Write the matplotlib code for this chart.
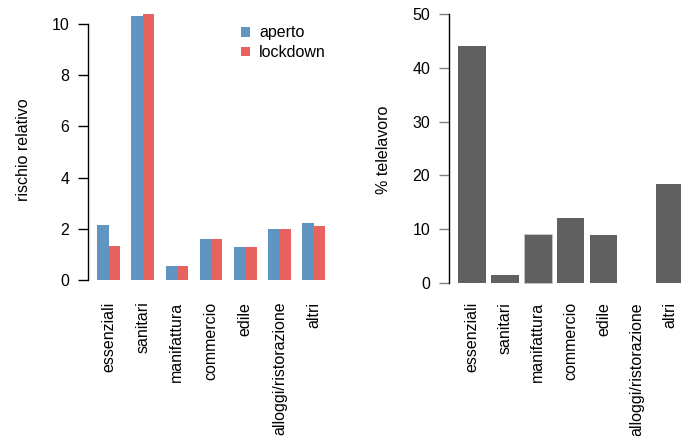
import numpy as np
import matplotlib
matplotlib.use("Agg")
import matplotlib.pyplot as plt
from matplotlib.patches import Patch

categories = ["essenziali", "sanitari", "manifattura", "commercio", "edile",
              "alloggi/ristorazione", "altri"]
aperto = [2.14, 10.31, 0.55, 1.60, 1.29, 1.99, 2.23]
lockdown = [1.33, 10.39, 0.55, 1.60, 1.29, 2.00, 2.11]
telelavoro = [44.1, 1.5, 9.05, 12.1, 8.9, 0.0, 18.45]
left_yticks = [0, 2, 4, 6, 8, 10]
right_yticks = [0, 10, 20, 30, 40, 50]

BLUE = "#5F95C0"
RED = "#E8625F"
GRAY = "#606060"

plt.rcParams["font.family"] = ["Liberation Sans", "DejaVu Sans"]
FS = 11.5

W, H = 681, 436
fig = plt.figure(figsize=(W / 100, H / 100), dpi=100)

def px_axes(left, top, right, bottom):
    return fig.add_axes([left / W, 1 - bottom / H, (right - left) / W, (bottom - top) / H])

# ---------- left chart ----------
ax1 = px_axes(88, 3.4, 334.2, 290.6)
n = len(categories)
g = np.arange(n)
x_ap = g * 3 + 1.5
x_lo = g * 3 + 2.5
ax1.bar(x_ap, aperto, width=1.0, color=BLUE, linewidth=0)
ax1.bar(x_lo, lockdown, width=1.0, color=RED, linewidth=0)
ax1.set_xlim(0.2, 21.8)
ax1.set_ylim(-0.4156, 10.8056)
ax1.set_yticks(left_yticks)
ax1.set_yticklabels([str(v) for v in left_yticks])
ax1.set_xticks(g * 3 + 2)
ax1.set_xticklabels(categories, rotation=90)

# ---------- right chart ----------
ax2 = px_axes(449, 3.2, 692.5, 293.8)
xr = 0.7 + 1.2 * g
edges = ["none"] * n
edges[2] = "#C8C8C8"
ax2.bar(xr, telelavoro, width=1.0, color=GRAY, edgecolor=edges, linewidth=0.6)
ax2.set_xlim(-0.128, 8.728)
ax2.set_ylim(-2, 52)
ax2.set_yticks(right_yticks)
ax2.set_yticklabels([str(v) for v in right_yticks])
ax2.set_xticks(xr)
ax2.set_xticklabels(categories, rotation=90)

for ax, top, tcol, pad_x in ((ax1, 10, "black", 8.0), (ax2, 50, "#808080", 6.0)):
    for s in ("top", "right", "bottom"):
        ax.spines[s].set_visible(False)
    ax.spines["left"].set_bounds(0, top)
    ax.spines["left"].set_linewidth(1.0)
    ax.tick_params(axis="y", length=7, width=1.0, color=tcol, pad=6.5,
                   labelsize=FS, labelcolor="black")
    ax.tick_params(axis="x", length=0, pad=pad_x, labelsize=FS)
    ax.set_facecolor("none")

fig.text(24 / W, 1 - 150 / H, "rischio relativo", rotation=90, ha="center",
         va="center", fontsize=FS)
fig.text(383 / W, 1 - 150 / H, "% telelavoro", rotation=90, ha="center",
         va="center", fontsize=FS)

handles = [Patch(facecolor=BLUE, edgecolor="none"), Patch(facecolor=RED, edgecolor="none")]
ax1.legend(handles, ["aperto", "lockdown"], loc="upper left",
           bbox_to_anchor=(241 / W, 1 - 25.5 / H), bbox_transform=fig.transFigure,
           frameon=False, fontsize=FS, handlelength=0.55, handleheight=0.55,
           handletextpad=0.6, labelspacing=0.3, borderpad=0, borderaxespad=0)

fig.savefig("out.png", dpi=100)
